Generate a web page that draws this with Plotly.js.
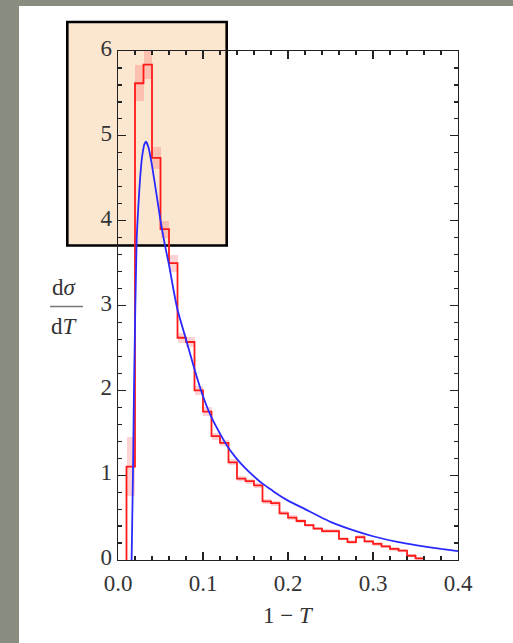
<!DOCTYPE html>
<html>
<head>
<meta charset="utf-8">
<script src="https://cdn.plot.ly/plotly-3.0.1.min.js"></script>
<style>
  html, body { margin: 0; padding: 0; background: #898d7f; }
  #chart { width: 513px; height: 643px; }
</style>
</head>
<body>
<div id="chart"></div>
<script>
// Histogram of 1 - T (bin lower edges, bin width 0.01)
const binEdges = [0.00,0.01,0.02,0.03,0.04,0.05,0.06,0.07,0.08,0.09,
                  0.10,0.11,0.12,0.13,0.14,0.15,0.16,0.17,0.18,0.19,
                  0.20,0.21,0.22,0.23,0.24,0.25,0.26,0.27,0.28,0.29,
                  0.30,0.31,0.32,0.33,0.34,0.35,0.36,0.37,0.38,0.39];
const binWidth = 0.01;
const histValues = [0.00,1.10,5.62,5.84,4.74,3.90,3.50,2.62,2.57,2.00,
                    1.75,1.46,1.38,1.15,0.96,0.93,0.88,0.69,0.67,0.55,
                    0.50,0.46,0.41,0.37,0.34,0.34,0.25,0.21,0.27,0.22,
                    0.19,0.16,0.13,0.11,0.05,0.02,0.00,0.00,0.00,0.00];
// half-height of the shaded uncertainty band per bin
const histErrors = [0.00,0.35,0.21,0.17,0.13,0.10,0.10,0.06,0.06,0.05,
                    0.05,0.04,0.04,0.035,0.03,0.03,0.03,0.03,0.03,0.025,
                    0.025,0.025,0.02,0.02,0.02,0.02,0.02,0.02,0.02,0.02,
                    0.02,0.02,0.02,0.02,0.02,0.02,0.00,0.00,0.00,0.00];

// Theory curve
const curveX = [0.0160,0.0168,0.0176,0.0188,0.0196,0.0204,0.0212,0.0220,0.0230,0.0245,
                0.0260,0.0275,0.0290,0.0310,0.0330,0.0360,0.0400,0.0450,0.0500,0.0550,
                0.0600,0.0650,0.0700,0.0800,0.0900,0.1000,0.1100,0.1200,0.1300,0.1400,
                0.1500,0.1600,0.1700,0.1800,0.1900,0.2000,0.2200,0.2500,0.2800,0.3000,
                0.3300,0.3500,0.3800,0.4000];
const curveY = [0.00,0.50,1.00,2.00,2.50,3.00,3.40,3.80,4.00,4.27,
                4.50,4.68,4.80,4.90,4.93,4.86,4.65,4.33,4.00,3.72,
                3.48,3.20,2.95,2.60,2.25,1.93,1.68,1.49,1.32,1.19,
                1.08,0.985,0.90,0.83,0.76,0.70,0.60,0.45,0.34,0.28,
                0.21,0.175,0.13,0.105];

const xTickVals = [0.0,0.1,0.2,0.3,0.4];
const xTickText = ['0.0','0.1','0.2','0.3','0.4'];
const yTickVals = [0,1,2,3,4,5,6];
const yTickText = ['0','1','2','3','4','5','6'];

// page geometry (pixels)
const W = 513, H = 643;
const M = {l: 118, r: 55, t: 51, b: 83};
const px = x => (x - M.l) / (W - M.l - M.r);
const py = y => (H - M.b - y) / (H - M.t - M.b);

// step outline built from the bins
const firstBin = histValues.findIndex(v => v > 0);
let lastBin = histValues.length - 1;
while (histValues[lastBin] === 0) lastBin--;
const stepX = [binEdges[firstBin]];
const stepY = [0];
for (let i = firstBin; i <= lastBin; i++) {
  stepX.push(binEdges[i]);
  stepY.push(histValues[i]);
}
stepX.push(binEdges[lastBin] + binWidth);
stepY.push(0);

const bandX = [], bandBase = [], bandH = [];
for (let i = firstBin; i <= lastBin; i++) {
  bandX.push(binEdges[i] + binWidth / 2);
  bandBase.push(histValues[i] - histErrors[i]);
  bandH.push(2 * histErrors[i]);
}

const serif = 'Liberation Serif, Times New Roman, serif';

const traces = [
  {
    type: 'bar', x: bandX, y: bandH, base: bandBase, width: binWidth,
    marker: {color: 'rgba(255,80,80,0.25)', line: {width: 0}},
    hoverinfo: 'skip', showlegend: false
  },
  {
    type: 'scatter', mode: 'lines', x: stepX, y: stepY,
    line: {shape: 'hv', color: '#ff1a1a', width: 1.8},
    showlegend: false
  },
  {
    type: 'scatter', mode: 'lines', x: curveX, y: curveY,
    line: {shape: 'spline', smoothing: 0.4, color: '#2a2aff', width: 1.8},
    showlegend: false
  }
];

const axisCommon = {
  showline: true, linecolor: '#222', linewidth: 1.4, mirror: 'ticks',
  ticks: 'inside', ticklen: 8, tickwidth: 1.3, tickcolor: '#222',
  showgrid: false, zeroline: false,
  tickfont: {family: serif, size: 23, color: '#333'}
};

const layout = {
  width: W, height: H,
  margin: M,
  paper_bgcolor: '#898d7f',
  plot_bgcolor: 'rgba(0,0,0,0)',
  font: {family: serif},
  showlegend: false,
  bargap: 0,
  xaxis: Object.assign({}, axisCommon, {
    range: [0, 0.4], tickvals: xTickVals, ticktext: xTickText,
    ticklabelstandoff: 2,
    minor: {dtick: 0.02, tick0: 0, ticks: 'inside', ticklen: 4, tickwidth: 1.2, tickcolor: '#222'}
  }),
  yaxis: Object.assign({}, axisCommon, {
    range: [0, 6], tickvals: yTickVals, ticktext: yTickText,
    ticklabelshift: -3,
    minor: {dtick: 0.2, tick0: 0, ticks: 'inside', ticklen: 4, tickwidth: 1.2, tickcolor: '#222'}
  }),
  shapes: [
    // white page panel
    {type: 'rect', xref: 'paper', yref: 'paper', layer: 'below',
     x0: px(19), x1: px(W + 2), y0: py(6), y1: py(H + 2),
     fillcolor: '#ffffff', line: {width: 0}},
    // highlighted peak region
    {type: 'rect', xref: 'paper', yref: 'paper', layer: 'below',
     x0: px(67.3), x1: px(226.7), y0: py(22), y1: py(245.5),
     fillcolor: '#fbe6d0', line: {color: '#000', width: 2.6}},
    // fraction bar of the y label
    {type: 'line', xref: 'paper', yref: 'paper',
     x0: px(50), x1: px(83), y0: py(306.5), y1: py(306.5),
     line: {color: '#777', width: 1.6}}
  ],
  annotations: [
    {xref: 'paper', yref: 'paper', x: px(64.5), y: py(287), text: 'd<i>σ</i>',
     showarrow: false, xanchor: 'center', yanchor: 'middle',
     font: {family: serif, size: 23, color: '#333'}},
    {xref: 'paper', yref: 'paper', x: px(64.5), y: py(326), text: 'd<i>T</i>',
     showarrow: false, xanchor: 'center', yanchor: 'middle',
     font: {family: serif, size: 23, color: '#333'}},
    {xref: 'paper', yref: 'paper', x: px(288), y: py(615), text: '1 − <i>T</i>',
     showarrow: false, xanchor: 'center', yanchor: 'middle',
     font: {family: serif, size: 23, color: '#333'}}
  ]
};

Plotly.newPlot('chart', traces, layout, {displayModeBar: false, staticPlot: true});
</script>
</body>
</html>
